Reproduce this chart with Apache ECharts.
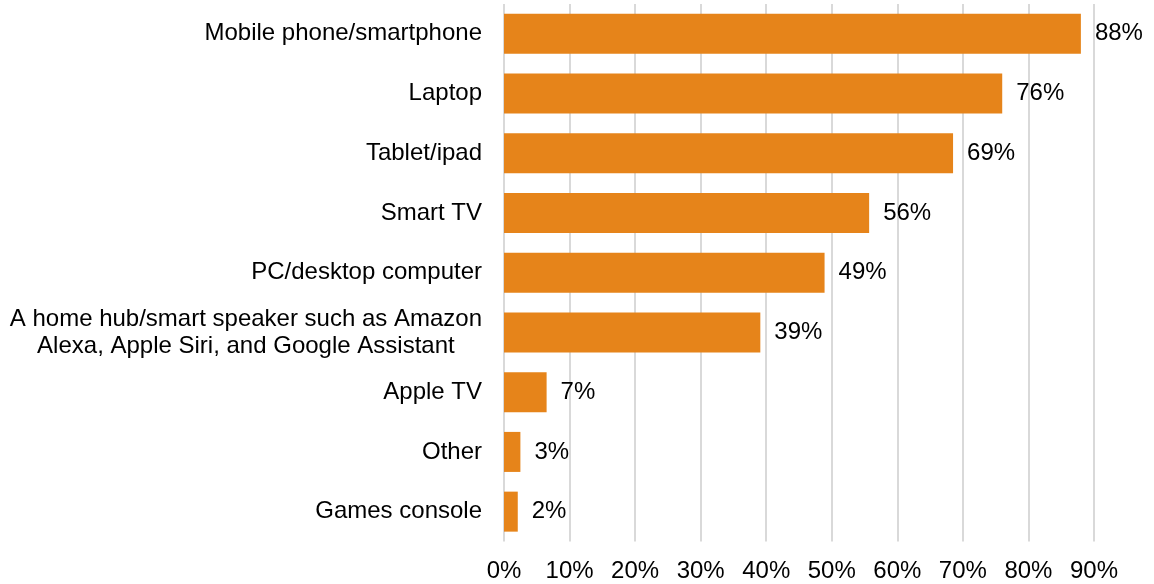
<!DOCTYPE html>
<html>
<head>
<meta charset="utf-8">
<script src="https://cdn.jsdelivr.net/npm/echarts@6/dist/echarts.min.js"></script>
<style>
html,body{margin:0;padding:0;background:#fff;}
#chart{width:1154px;height:584px;}
</style>
</head>
<body>
<div id="chart"></div>
<script>
const categories = [
  'Mobile phone/smartphone',
  'Laptop',
  'Tablet/ipad',
  'Smart TV',
  'PC/desktop computer',
  'A home hub/smart speaker such as Amazon\nAlexa, Apple Siri, and Google Assistant',
  'Apple TV',
  'Other',
  'Games console'
];
const values = [88, 76, 68.5, 55.7, 48.9, 39.1, 6.5, 2.5, 2.1];
const valueLabels = ['88%', '76%', '69%', '56%', '49%', '39%', '7%', '3%', '2%'];
const xTicks = [0, 10, 20, 30, 40, 50, 60, 70, 80, 90];

const FONT = 'Liberation Sans, Arial, sans-serif';
const chart = echarts.init(document.getElementById('chart'));
chart.setOption({
  animation: false,
  grid: { left: 504, right: 60, top: 4, bottom: 42.5 },
  xAxis: {
    type: 'value',
    min: xTicks[0],
    max: xTicks[xTicks.length - 1],
    interval: 10,
    axisLine: { show: false },
    axisTick: { show: false },
    splitLine: { show: true, lineStyle: { color: '#d9d9d9', width: 2 } },
    axisLabel: {
      formatter: '{value}%',
      fontFamily: FONT,
      fontSize: 24,
      color: '#000',
      margin: 18
    }
  },
  yAxis: {
    type: 'category',
    inverse: true,
    data: categories,
    axisLine: { show: false },
    axisTick: { show: false },
    axisLabel: {
      margin: 22,
      formatter: function (v) {
        return v.split('\n').map(function (l) { return '{c|' + l + '}'; }).join('\n');
      },
      rich: {
        c: { align: 'center', fontFamily: FONT, fontSize: 24, lineHeight: 27, color: '#000' }
      }
    }
  },
  series: [{
    type: 'bar',
    data: values,
    barCategoryGap: '33%',
    itemStyle: { color: '#E6841A' },
    label: {
      show: true,
      position: 'right',
      distance: 14,
      fontFamily: FONT,
      fontSize: 24,
      color: '#000',
      formatter: function (p) { return valueLabels[p.dataIndex]; }
    }
  }]
});
</script>
</body>
</html>
